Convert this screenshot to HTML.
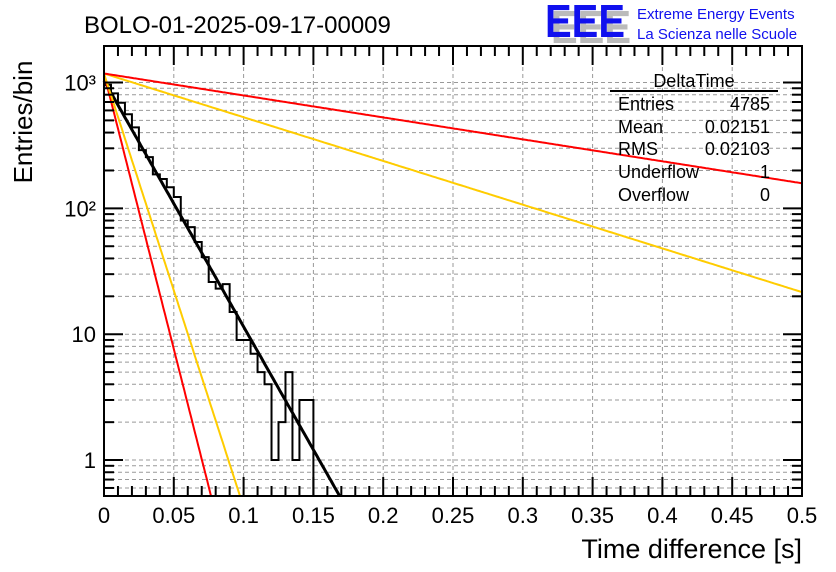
<!DOCTYPE html>
<html><head><meta charset="utf-8"><style>
body{margin:0;background:#fff}
svg{display:block;font-family:"Liberation Sans",sans-serif}
</style></head><body>
<svg id="c" width="836" height="572">
<text x="84" y="33" font-size="24">BOLO-01-2025-09-17-00009</text>
<g>
<text x="548" y="40" font-size="46" font-weight="bold" fill="#bbb" textLength="80" lengthAdjust="spacingAndGlyphs" transform="translate(3,3)">EEE</text>
<text x="545" y="37" font-size="46" font-weight="bold" fill="#1010ee" textLength="80" lengthAdjust="spacingAndGlyphs">EEE</text>
<text x="637" y="19" font-size="15" fill="#1010ee">Extreme Energy Events</text>
<text x="637" y="39" font-size="15" fill="#1010ee">La Scienza nelle Scuole</text>
</g>
<g id="grid"></g><g id="marks"></g><g id="axes"></g>
<g font-size="18">
<text x="694" y="87" text-anchor="middle">DeltaTime</text>
<line x1="610" y1="91" x2="778" y2="91" stroke="#000" stroke-width="2"/>
<text x="618" y="110">Entries</text><text x="770" y="110" text-anchor="end">4785</text>
<text x="618" y="133">Mean</text><text x="770" y="133" text-anchor="end">0.02151</text>
<text x="618" y="155">RMS</text><text x="770" y="155" text-anchor="end">0.02103</text>
<text x="618" y="178">Underflow</text><text x="770" y="178" text-anchor="end">1</text>
<text x="618" y="201">Overflow</text><text x="770" y="201" text-anchor="end">0</text>
</g>
<text x="802" y="558" font-size="27" text-anchor="end">Time difference [s]</text>
<text transform="translate(32,122) rotate(-90)" font-size="26" text-anchor="middle">Entries/bin</text>
</svg>
<script>
const binWidth=0.005;
const counts=[960,820,690,560,440,290,255,186,171,147,123,80,71,54,41,26,23,25,15,9,9,7,5,4,1,2,5,1,3,3];
const fitNames=['fit-black','red-steep','yellow-steep','yellow-shallow','red-shallow'];
const fitAmp=[1038,1179,1179,1179,1179];
const fitTau=[0.0222,0.00992,0.0126,0.125,0.249];
const fitColor=['#000','#f00','#fc0','#fc0','#f00'];
const xTicks=[0,0.05,0.1,0.15,0.2,0.25,0.3,0.35,0.4,0.45,0.5];
const xTickLabels=['0','0.05','0.1','0.15','0.2','0.25','0.3','0.35','0.4','0.45','0.5'];
const yDecades=[1,10,100,1000];
const yDecadeLabels=['1','10','10²','10³'];
const L=104,R=802,T=46,B=496,yMin=0.518,yMax=1.95e3;
const X=v=>L+(v-0)/(0.5)*(R-L);
const lmin=Math.log10(yMin),lmax=Math.log10(yMax);
const Y=v=>{if(v<=0)return B;const y=B-(Math.log10(v)-lmin)/(lmax-lmin)*(B-T);return Math.min(B,Math.max(T,y));};
const NS='http://www.w3.org/2000/svg';
function mk(p,tag,at){const e=document.createElementNS(NS,tag);for(const k in at)e.setAttribute(k,at[k]);p.appendChild(e);return e;}
const grid=document.getElementById('grid'),marks=document.getElementById('marks'),axes=document.getElementById('axes');
for(const t of xTicks){if(t>0&&t<0.5){const g=mk(grid,'line',{x1:X(t),x2:X(t),y1:T,y2:B,stroke:'#999','stroke-dasharray':'4,3'});

}}
for(let d=0.1;d<=1000;d*=10){for(let m=1;m<10;m++){const v=d*m;if(v<yMin||v>yMax)continue;const y=Y(v);
const g=mk(grid,'line',{x1:L,x2:R,y1:y,y2:y,stroke:'#999','stroke-dasharray':'4,3'});


const tk=mk(axes,'line',{x1:L,x2:L+(m==1?19:10),y1:y,y2:y,stroke:'#000','stroke-width':2});


const tr=mk(axes,'line',{x1:R,x2:R-(m==1?19:10),y1:y,y2:y,stroke:'#000','stroke-width':2});

}}
let d='M'+X(0)+','+B;
counts.forEach((c,i)=>{const y=Y(c);d+=' L'+X(i*binWidth)+','+y+' L'+X((i+1)*binWidth)+','+y;});
d+=' L'+X(counts.length*binWidth)+','+B;
const h=mk(marks,'path',{d:d,fill:'none',stroke:'#000','stroke-width':2});


fitNames.forEach((n,k)=>{let p='';for(let i=0;i<=400;i++){const x=0.5*i/400;const v=fitAmp[k]*Math.exp(-x/fitTau[k]);if(v<yMin*0.999&&i>0){const xe=fitTau[k]*Math.log(fitAmp[k]/yMin);p+=' L'+X(xe)+','+B;break;}p+=(i?' L':'M')+X(x).toFixed(1)+','+Y(v).toFixed(1);}
const e=mk(marks,'path',{d:p,fill:'none',stroke:fitColor[k],'stroke-width':k==0?3:2});

});
const f=mk(axes,'rect',{x:L,y:T,width:R-L,height:B-T,fill:'none',stroke:'#000','stroke-width':2});


for(let i=0;i<=50;i++){const x=X(i*0.01);const len=i%5==0?19:10;
const a=mk(axes,'line',{x1:x,x2:x,y1:B,y2:B-len,stroke:'#000','stroke-width':2});


const b=mk(axes,'line',{x1:x,x2:x,y1:T,y2:T+len,stroke:'#000','stroke-width':2});

}
xTicks.forEach((t,i)=>{const e=mk(axes,'text',{x:X(t),y:523,'font-size':22,'text-anchor':'middle'});e.textContent=xTickLabels[i];

});
yDecades.forEach((v,i)=>{const e=mk(axes,'text',{x:96,y:Y(v)+8,'font-size':22,'text-anchor':'end'});e.textContent=yDecadeLabels[i];

});
</script>
</body></html>
